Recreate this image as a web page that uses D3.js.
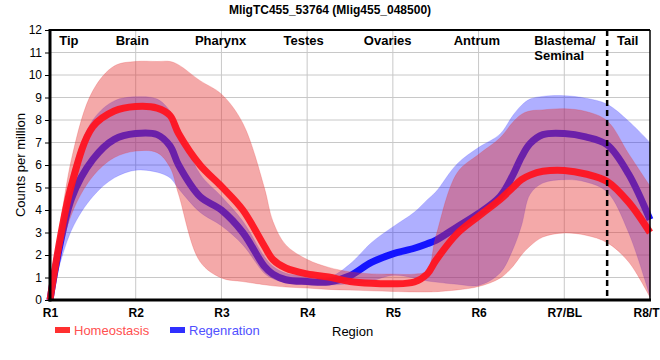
<!DOCTYPE html>
<html><head><meta charset="utf-8">
<script src="https://cdn.jsdelivr.net/npm/d3@7"></script>
<style>
body{margin:0;background:#fff}
svg{display:block}
text{font-family:"Liberation Sans",Arial,sans-serif}
</style>
</head><body>
<svg id="c" width="660" height="360"></svg>
<script>
// ---------- data ----------
const title = "MligTC455_53764 (Mlig455_048500)";
const regions = ["R1","R2","R3","R4","R5","R6","R7/BL","R8/T"];
const regionNames = ["Tip","Brain","Pharynx","Testes","Ovaries","Antrum","Blastema/|Seminal","Tail"];
const yTicks = [0,1,2,3,4,5,6,7,8,9,10,11,12];
const seriesNames = ["Homeostasis","Regenration"];

// positions along the region axis (0 = R1 ... 7 = R8/T)
const pos = [0,0.25,0.5,0.75,1,1.25,1.4,1.5,1.75,2,2.25,2.5,2.6,2.75,3,3.25,3.5,3.75,4,4.25,4.4,4.5,4.75,5,5.25,5.4,5.5,5.6,5.75,6,6.25,6.5,6.75,7];

const homeoMean = [0,5.1,7.7,8.4,8.6,8.53,8.2,7.4,6.0,5.05,4.0,2.4,1.8,1.42,1.16,1.02,0.82,0.74,0.72,0.8,1.15,1.75,2.95,3.72,4.46,5.0,5.35,5.55,5.72,5.76,5.6,5.27,4.35,3.0];
const homeoHigh = [0,6.25,9.3,10.4,10.6,10.6,10.6,10.45,9.75,9.15,7.85,5.0,3.5,2.45,1.8,1.45,1.25,1.16,1.15,1.15,1.3,2.8,5.65,6.47,7.2,7.9,8.25,8.4,8.45,8.5,8.38,7.96,6.5,5.06];
const homeoLow  = [0,3.8,5.5,6.33,6.62,6.55,5.9,4.7,1.71,0.98,0.82,0.68,0.63,0.58,0.53,0.47,0.44,0.41,0.38,0.36,0.36,0.37,0.45,0.6,0.97,1.49,2.0,2.4,2.8,2.98,2.88,2.55,1.7,0.12];

const regenMean = [0,4.5,6.25,7.14,7.4,7.35,6.85,6.0,4.6,4.0,3.0,1.5,1.15,0.9,0.82,0.8,1.08,1.67,2.05,2.3,2.5,2.65,3.25,3.85,4.6,5.55,6.35,6.95,7.35,7.4,7.25,6.9,5.6,3.57];
const regenHigh = [0,5.6,8.0,8.85,9.03,8.93,8.4,7.7,5.6,4.6,3.5,1.93,1.5,1.19,1.07,1.0,1.6,2.55,3.25,3.9,4.45,4.8,6.05,6.78,7.37,8.2,8.65,8.93,9.05,9.08,8.97,8.7,7.95,7.0];
const regenLow  = [0,3.1,4.6,5.43,5.77,5.68,5.43,4.95,3.9,3.3,2.45,1.19,0.95,0.77,0.7,0.67,0.72,0.85,1.1,0.98,0.85,0.8,0.7,0.65,1.2,2.25,3.3,4.7,5.2,5.35,5.25,4.8,3.0,0.15];

const dividerPos = 6.5;

// ---------- layout ----------
const L = 50, R = 650, T = 30, B = 300;
const svg = d3.select("#c");
const x = d3.scaleLinear().domain([0, regions.length - 1]).range([L, R]);
const y = d3.scaleLinear().domain([0, 12]).range([B, T]);

const curve = d3.curveCatmullRom.alpha(0.5);
const pts = (lo, hi) => pos.map((p, i) => ({p, lo: lo[i], hi: hi[i]}));
const line = d3.line().x(d => x(d.p)).y(d => y(d.v)).curve(curve);
const area = d3.area().x(d => x(d.p)).y0(d => y(d.lo)).y1(d => y(d.hi)).curve(curve);
const mk = arr => pos.map((p, i) => ({p, v: arr[i]}));

// grid
const g = svg.append("g");
g.selectAll("line.h").data(yTicks.slice(1)).join("line")
  .attr("x1", L).attr("x2", R).attr("y1", d => y(d)).attr("y2", d => y(d))
  .attr("stroke", "#c8c8c8").attr("stroke-width", 1);
g.selectAll("line.v").data(regions.slice(1, -1).map((_, i) => i + 1)).join("line")
  .attr("x1", d => x(d)).attr("x2", d => x(d)).attr("y1", T).attr("y2", B)
  .attr("stroke", "#c8c8c8").attr("stroke-width", 1);

// bands and lines
svg.append("path").attr("d", area(pts(regenLow, regenHigh)))
  .attr("fill", "rgba(20,20,255,0.34)").attr("stroke", "rgba(60,60,255,0.25)").attr("stroke-width", 0.8);
svg.append("path").attr("d", line(mk(regenMean)))
  .attr("fill", "none").attr("stroke", "#1414ff").attr("stroke-width", 7);
svg.append("path").attr("d", area(pts(homeoLow, homeoHigh)))
  .attr("fill", "rgba(228,50,50,0.42)").attr("stroke", "rgba(228,60,60,0.3)").attr("stroke-width", 0.8);
svg.append("path").attr("d", line(mk(homeoMean)))
  .attr("fill", "none").attr("stroke", "#ff1420").attr("stroke-opacity", 0.95).attr("stroke-width", 7);

// divider
svg.append("line").attr("x1", x(dividerPos)).attr("x2", x(dividerPos)).attr("y1", T).attr("y2", B)
  .attr("stroke", "#000").attr("stroke-width", 2.5).attr("stroke-dasharray", "6,4");

// frame
svg.append("line").attr("x1", L).attr("x2", R).attr("y1", T).attr("y2", T).attr("stroke", "#000").attr("stroke-width", 2);
svg.append("line").attr("x1", R).attr("x2", R).attr("y1", T).attr("y2", B).attr("stroke", "#000").attr("stroke-width", 1.5);

// y axis
const ya = svg.append("g").attr("transform", `translate(${L},0)`)
  .call(d3.axisLeft(y).tickValues(yTicks).tickSize(5).tickPadding(3).tickFormat(d3.format("d")));
ya.select(".domain").remove();
ya.selectAll("text").attr("font-size", 12).attr("fill", "#000").style("font-family", '"Liberation Sans",Arial,sans-serif');
ya.selectAll("line").attr("stroke", "#000");
svg.append("line").attr("x1", L).attr("x2", L).attr("y1", T - 1).attr("y2", B + 1.5).attr("stroke", "#000").attr("stroke-width", 3);

// x axis
const xa = svg.append("g").attr("transform", `translate(0,${B})`)
  .call(d3.axisBottom(x).tickValues(d3.range(regions.length)).tickSize(0).tickPadding(8).tickFormat(i => regions[i]));
xa.select(".domain").remove();
xa.selectAll("text").attr("font-size", 12).attr("font-weight", "bold").attr("fill", "#000")
  .style("font-family", '"Liberation Sans",Arial,sans-serif');
// keep the last label inside the page
xa.selectAll("text").filter(i => i === regions.length - 1).attr("text-anchor", "end").attr("dx", 9);
svg.append("line").attr("x1", L - 1.5).attr("x2", R + 1).attr("y1", B).attr("y2", B).attr("stroke", "#000").attr("stroke-width", 3);

// region names
const nameAnchor = [[0.22,"middle"],[0.96,"middle"],[1.99,"middle"],[2.96,"middle"],[3.94,"middle"],[4.98,"middle"],[5.65,"start"],[6.74,"middle"]];
regionNames.forEach((n, i) => {
  const t = svg.append("text").attr("x", x(nameAnchor[i][0])).attr("y", 45)
    .attr("text-anchor", nameAnchor[i][1]).attr("font-size", 13).attr("font-weight", "bold").attr("fill", "#000");
  n.split("|").forEach((s, k) => t.append("tspan").attr("x", x(nameAnchor[i][0])).attr("dy", k ? 15 : 0).text(s));
});

// title
svg.append("text").attr("x", 330).attr("y", 14).attr("text-anchor", "middle")
  .attr("font-size", 12).attr("font-weight", "bold").text(title);

// y label
svg.append("text").attr("transform", "translate(25,165) rotate(-90)").attr("text-anchor", "middle")
  .attr("font-size", 13).text("Counts per million");

// legend
const legCol = [["#ff3030","#ff5050"],["#3030ff","#5050ff"]];
const legX = [55, 170];
seriesNames.forEach((s, i) => {
  svg.append("rect").attr("x", legX[i]).attr("y", 327).attr("width", 15).attr("height", 6).attr("fill", legCol[i][0]);
  svg.append("text").attr("x", legX[i] + 19).attr("y", 335).attr("font-size", 13).attr("fill", legCol[i][1]).text(s);
});
svg.append("text").attr("x", 332).attr("y", 336).attr("font-size", 13).attr("fill", "#000").text("Region");
</script>
</body></html>
